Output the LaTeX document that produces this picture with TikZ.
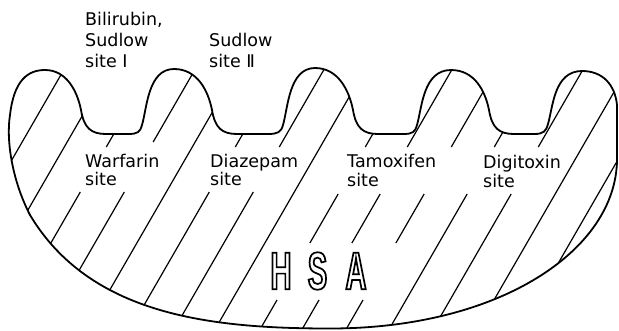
\documentclass[tikz,border=0pt]{standalone}
\usepackage{fontspec}
\setmainfont{DejaVu Sans}
\newfontfamily\hsafont{Liberation Sans Bold}[FakeStretch=0.55]
\newcommand\hsaoutl[1]{\special{pdf:literal direct 1.7 w 1 Tr}#1\special{pdf:literal direct 0 Tr}}
\begin{document}
\begin{tikzpicture}[x=1pt,y=-1pt,
  outl/.style={line width=1.8pt,line join=round},
  hatch/.style={line width=1.2pt},
  lbl/.style={anchor=base west,inner sep=0pt,font=\fontsize{17.5}{20}\selectfont},
  hsa/.style={inner sep=0pt,font=\hsafont\fontsize{53}{53}\selectfont}]
\useasboundingbox (0,0) rectangle (619,330);
\def\hsaoutline{(30,215) .. controls (12,180) and (6,140) .. (10,115)
 .. controls (14,80) and (28,70) .. (45,70)
 .. controls (66,70) and (77,90) .. (81,110)
 .. controls (84,128) and (91,134) .. (106,134)
 -- (128,134) .. controls (138,134) and (140,132) .. (142,125)
 .. controls (147,108) and (148,69) .. (174,69)
 .. controls (197,69) and (208,90) .. (212,110)
 .. controls (215,128) and (222,134) .. (237,134)
 -- (268,134) .. controls (278,134) and (281,132) .. (283,125)
 .. controls (288,108) and (289,68) .. (315,68)
 .. controls (338,68) and (349,90) .. (353,110)
 .. controls (356,128) and (363,134) .. (378,134)
 -- (403,134) .. controls (413,134) and (415,132) .. (417,125)
 .. controls (422,108) and (423,70) .. (451,70)
 .. controls (474,70) and (485,90) .. (489,110)
 .. controls (492,128) and (499,134) .. (514,134)
 -- (534,134) .. controls (544,134) and (546,131) .. (548,124)
 .. controls (553,107) and (554,71) .. (582,71)
 .. controls (603,71) and (615,85) .. (617,105)
 -- (617,160)
 .. controls (616,250) and (500,328.5) .. (330,328.5)
 .. controls (210,328.5) and (90,315) .. (30,215) -- cycle}
% hatching
\begin{scope}
\clip \hsaoutline;
\foreach \c/\a/\b in {-69/60/200, -24/95/240, 18/125/147, 18/192/270,
  62/60/142, 62/192/290, 104/90/310, 147/125/147, 147/192/320,
  191/55/147, 191/192/330, 232/80/335,
  277/125/147, 277/194/243, 277/300/335,
  319/60/147, 319/194/243, 319/300/335,
  363/60/147, 363/194/243, 363/300/335,
  406/125/147, 406/194/335, 450/60/147, 450/194/335,
  494/60/335, 537/100/335}
  \draw[hatch] ({\c+(300-\a)*0.577},\a) -- ({\c+(300-\b)*0.577},\b);
\end{scope}
% outline
\draw[outl] \hsaoutline;
% labels
\node[lbl] (lBil1) at (85,25) {Bilirubin,};
\node[lbl] (lBil2) at (85,46) {Sudlow};
\node[lbl] (lBil3) at (85,67) {site Ⅰ};
\node[lbl] (lSud1) at (209,46) {Sudlow};
\node[lbl] (lSud2) at (209,67) {site Ⅱ};
\node[lbl] (lWar1) at (85,167) {Warfarin};
\node[lbl] (lWar2) at (85,185) {site};
\node[lbl] (lDia1) at (210,167) {Diazepam};
\node[lbl] (lDia2) at (210,185) {site};
\node[lbl] (lTam1) at (347,167) {Tamoxifen};
\node[lbl] (lTam2) at (347,186) {site};
\node[lbl] (lDig1) at (483,168) {Digitoxin};
\node[lbl] (lDig2) at (483,187) {site};
% HSA hollow letters
\node[hsa] (hH) at (281,271) {\hsaoutl{H}};
\node[hsa] (hS) at (317.5,271) {\hsaoutl{S}};
\node[hsa] (hA) at (356,271) {\hsaoutl{A}};
\end{tikzpicture}
\end{document}
